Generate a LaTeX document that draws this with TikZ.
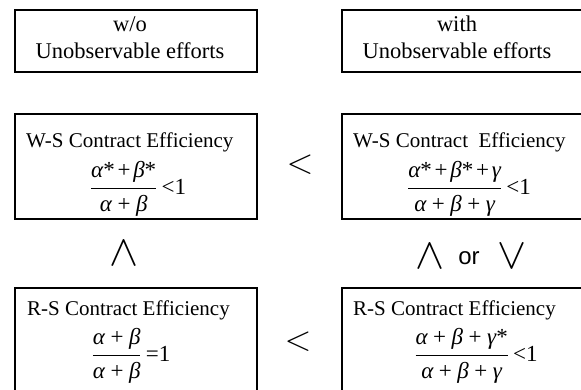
\documentclass[tikz,border=0pt]{standalone}
\usepackage{amsmath}
\usepackage{graphicx}
\usepackage{fontspec}
\setmainfont{Liberation Serif}
\newfontfamily\orfont{Liberation Sans}

% Greek letters and operators taken from the text font
\newcommand{\tal}{\text{\itshape α}}
\newcommand{\tbe}{\text{\itshape β}}
\newcommand{\tga}{\text{\itshape γ}}
\newcommand{\st}{\text{*}}
\newcommand{\tpl}{\mathbin{\text{+}}}
\newcommand{\npl}{\mskip2mu\text{+}\mskip2mu}
\newcommand{\lessone}{\,\text{<1}}
\newcommand{\eqone}{\,\text{=1}}
% large relation symbols (the math fonts stop growing at 24.88pt)
\newcommand{\bigless}{\scalebox{1.7}{$<$}}
\newcommand{\bigand}{\scalebox{2.1}{$\wedge$}}
\newcommand{\bigor}{\scalebox{2.1}{$\vee$}}

\begin{document}
\begin{tikzpicture}[x=1pt,y=-1pt,
  box/.style={draw, line width=1.6pt, inner sep=0pt, minimum width=242pt},
  headbox/.style={box, minimum height=62pt},
  effbox/.style={box, minimum height=105pt},
  head/.style={inner sep=0pt, font=\fontsize{22.5}{26}\selectfont},
  lbl/.style={inner sep=0pt, font=\fontsize{21}{25}\selectfont},
  formula/.style={inner sep=0pt, font=\fontsize{23}{27}\selectfont},
  sym/.style={inner sep=0pt, font=\fontsize{20}{24}\selectfont},
  word/.style={inner sep=0pt, font=\orfont\fontsize{24}{28}\selectfont},
]
\useasboundingbox (0,0) rectangle (581,389);
\clip (0,0) rectangle (581,389);

% column headers
\node[headbox] (hl) at (136,41) {};
\node[headbox] (hr) at (463,41) {};
\node[head, anchor=base] (hl1) at (130,31) {w/o};
\node[head, anchor=base] (hl2) at (130,58) {Unobservable efforts};
\node[head, anchor=base] (hr1) at (457,31) {with};
\node[head, anchor=base] (hr2) at (457,58) {Unobservable efforts};

% wage-sharing contracts
\node[effbox] (wl) at (136,166.5) {};
\node[effbox] (wr) at (463,166.5) {};
\node[lbl, anchor=base west] (wlt) at (26,147) {W-S Contract Efficiency};
\node[lbl, anchor=base west] (wrt) at (353,147) {W-S Contract\ \ Efficiency};
\node[formula] (wlf) at (138,189)
  {$\displaystyle\frac{\tal\st\npl\tbe\st}{\tal\tpl\tbe}\lessone$};
\node[formula] (wrf) at (469,189)
  {$\displaystyle\frac{\tal\st\npl\tbe\st\npl\tga}{\tal\tpl\tbe\tpl\tga}\lessone$};

% revenue-sharing contracts
\node[box, minimum height=120pt] (rl) at (136,348) {};
\node[box, minimum height=120pt] (rr) at (463,348) {};
\node[lbl, anchor=base west] (rlt) at (27,315) {R-S Contract Efficiency};
\node[lbl, anchor=base west] (rrt) at (353,315) {R-S Contract Efficiency};
\node[formula] (rlf) at (131,356)
  {$\displaystyle\frac{\tal\tpl\tbe}{\tal\tpl\tbe}\eqone$};
\node[formula] (rrf) at (476,356)
  {$\displaystyle\frac{\tal\tpl\tbe\tpl\tga\st}{\tal\tpl\tbe\tpl\tga}\lessone$};

% comparisons between the boxes
\node[sym] (ltop) at (300,165) {\bigless};
\node[sym] (lbot) at (298,342) {\bigless};
\node[sym] (andl) at (124,253) {\bigand};
\node[sym] (andr) at (430,256) {\bigand};
\node[word] (orw) at (469,258) {or};
\node[sym] (orr) at (512,256) {\bigor};
\end{tikzpicture}
\end{document}
